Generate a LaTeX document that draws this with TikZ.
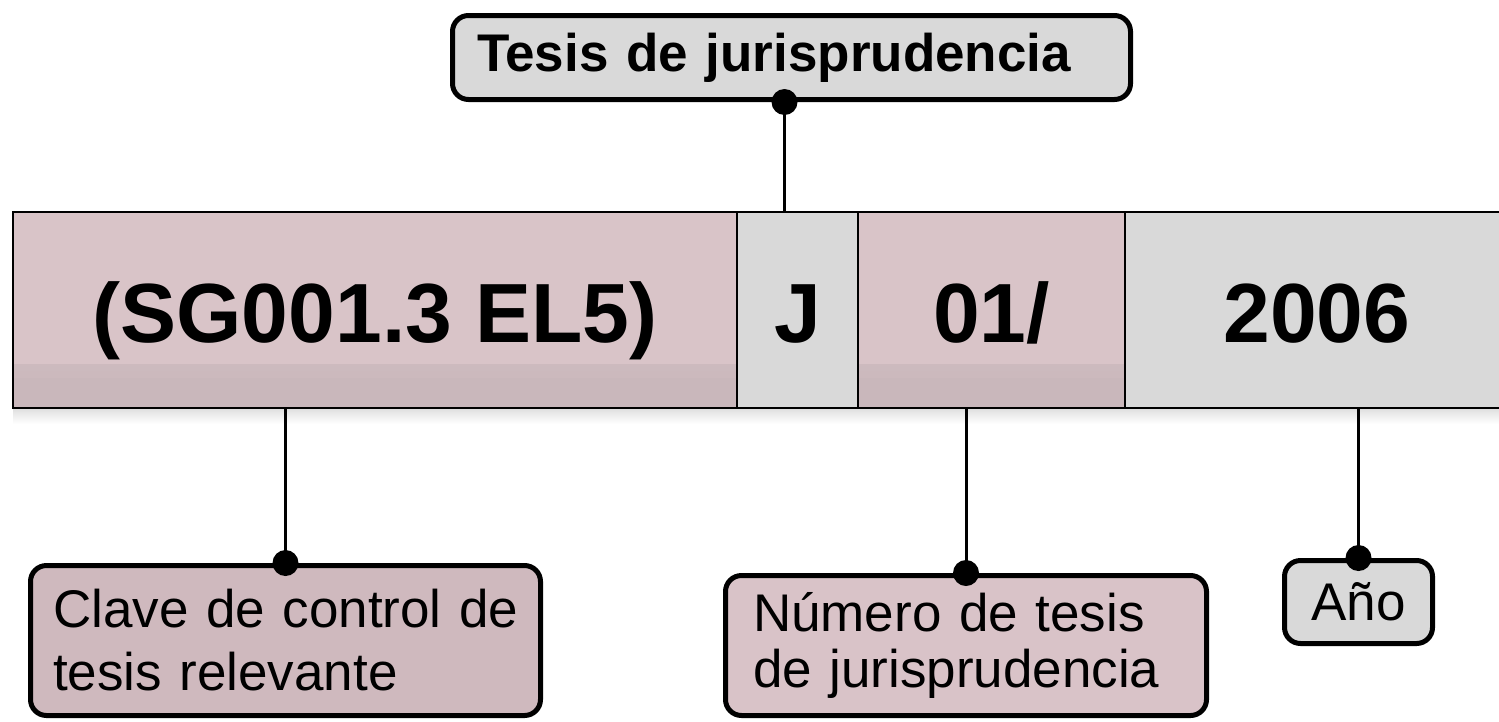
\documentclass[tikz,border=0pt]{standalone}
\usepackage{fontspec}
\setmainfont{Liberation Sans}
\usetikzlibrary{positioning}

\definecolor{segpink}{RGB}{217,196,200}
\definecolor{segpinkdk}{RGB}{201,183,187}
\definecolor{seggray}{RGB}{217,217,217}
\definecolor{clavepink}{RGB}{207,185,190}
\definecolor{numpink}{RGB}{217,195,200}

\tikzset{
  every picture/.style={line width=0.75pt},
  segbox/.style={draw=black, line width=2pt, inner sep=0pt, minimum height=196pt,
    text height=64pt, text depth=0pt, font=\fontsize{84}{100}\selectfont\bfseries},
  pinkseg/.style={segbox, fill=segpink,
    path picture={\shade[top color=segpink, bottom color=segpinkdk]
      ([yshift=44pt]path picture bounding box.south west) rectangle ([yshift=30pt]path picture bounding box.south east);
      \fill[segpinkdk] ([yshift=30pt]path picture bounding box.south west) rectangle (path picture bounding box.south east);}},
  grayseg/.style={segbox, fill=seggray},
  labelbox/.style={draw=black, line width=5pt, rounded corners=16pt, inner ysep=0pt,
    align=left, font=\fontsize{53}{63}\selectfont},
  link/.style={line width=3pt},
  dot/.style={fill=black},
}

\begin{document}
\begin{tikzpicture}[x=1pt,y=-1pt]
\useasboundingbox (0,0) rectangle (1499,721);

% soft shadow under the bar
\shade[top color=black!12, bottom color=white] (13,409) rectangle (1499,424);

% Bar segments
\node[pinkseg, minimum width=724pt] (claveseg) at (375,310) {(SG001.3 EL5)};
\node[grayseg, minimum width=121pt] (jseg) at (797.5,310) {J};
\node[pinkseg, minimum width=267pt] (numseg) at (991.5,310) {01/};
\node[grayseg, minimum width=384pt] (anoseg) at (1317,310) {2006};

% Label boxes
\node[labelbox, fill=seggray, minimum width=678pt, minimum height=84pt, text width=629pt,
  inner xsep=24.5pt, font=\fontsize{53}{63}\selectfont\bfseries] (tesis) at (791.5,57.5) {\mbox{Tesis de jurisprudencia}};
\node[labelbox, fill=clavepink, minimum width=510pt, minimum height=150pt, text width=465pt,
  inner xsep=22.5pt] (clavebox) at (285.5,640.5) {\mbox{Clave de control de}\\\mbox{tesis relevante}};
\node[labelbox, fill=numpink, minimum width=481pt, minimum height=140pt, text width=426pt,
  inner xsep=27.5pt, font=\fontsize{53}{56}\selectfont] (numbox) at (966,645.5) {\mbox{Número de tesis}\\\mbox{de jurisprudencia}};
\node[labelbox, fill=seggray, minimum width=148pt, minimum height=83pt, align=center,
  inner xsep=0pt] (anobox) at (1358.5,602) {Año};

% Connectors
\coordinate (tesisjoin) at ([xshift=-7pt]tesis.south);
\draw[link] (tesisjoin) -- (tesisjoin |- jseg.north);
\draw[link] (clavebox.north) -- (clavebox.north |- claveseg.south);
\draw[link] (numbox.north) -- (numbox.north |- numseg.south);
\draw[link] (anobox.north) -- (anobox.north |- anoseg.south);

% Dots
\fill[dot] (tesisjoin) circle[radius=13pt];
\fill[dot] (clavebox.north) circle[radius=13pt];
\fill[dot] (numbox.north) circle[radius=13pt];
\fill[dot] (anobox.north) circle[radius=13pt];

\end{tikzpicture}
\end{document}
